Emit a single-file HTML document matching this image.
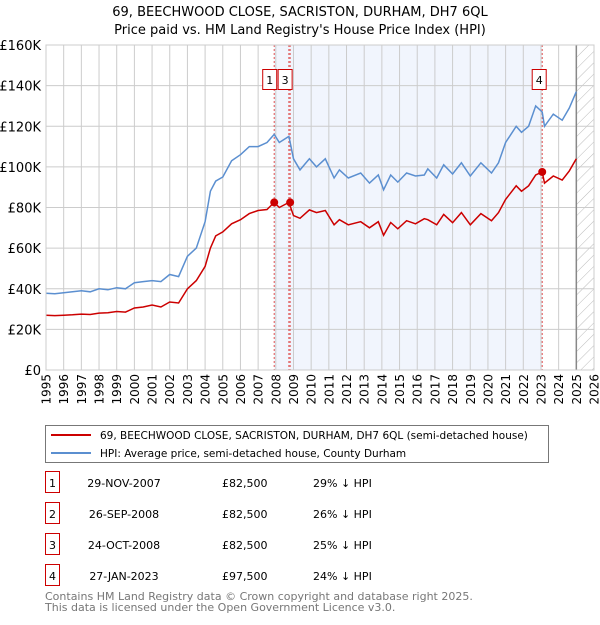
<!DOCTYPE html>
<html><head><meta charset="utf-8"><style>
body{margin:0;background:#fff;font-family:"Liberation Sans","DejaVu Sans",sans-serif;}
svg text{font-family:"DejaVu Sans","Liberation Sans",sans-serif;}
</style></head><body>
<svg id="chart" width="600" height="620" viewBox="0 0 600 620" xmlns="http://www.w3.org/2000/svg">
<defs><pattern id="hatch" width="8" height="8" patternUnits="userSpaceOnUse" patternTransform="rotate(45)"><line x1="0" y1="0" x2="0" y2="8" stroke="#bbb" stroke-width="1"/></pattern></defs>
<text x="300" y="16" text-anchor="middle" font-size="13">69, BEECHWOOD CLOSE, SACRISTON, DURHAM, DH7 6QL</text>
<text x="300" y="34" text-anchor="middle" font-size="13">Price paid vs. HM Land Registry's House Price Index (HPI)</text>
<g id="plot"></g>
<g>
<rect x="45.5" y="425.5" width="503" height="37" fill="#fff" stroke="#777"/>
<line x1="51" y1="435" x2="91" y2="435" stroke="#cc0000" stroke-width="2"/>
<text x="100" y="439" font-size="10.5">69, BEECHWOOD CLOSE, SACRISTON, DURHAM, DH7 6QL (semi-detached house)</text>
<line x1="51" y1="453" x2="91" y2="453" stroke="#5b8fd0" stroke-width="2"/>
<text x="100" y="457" font-size="10.5">HPI: Average price, semi-detached house, County Durham</text>
</g>
<g id="table" font-size="11"></g>
<text x="45" y="600" font-size="11" fill="#777">Contains HM Land Registry data © Crown copyright and database right 2025.</text>
<text x="45" y="611" font-size="11" fill="#777">This data is licensed under the Open Government Licence v3.0.</text>
</svg>
<script>
const years=[1995,1995.5,1996,1996.5,1997,1997.5,1998,1998.5,1999,1999.5,2000,2000.5,2001,2001.5,2002,2002.5,2003,2003.5,2004,2004.3,2004.6,2005,2005.5,2006,2006.5,2007,2007.5,2007.91,2008.2,2008.74,2009,2009.37,2009.9,2010.3,2010.8,2011.3,2011.6,2012.1,2012.8,2013.3,2013.8,2014.1,2014.5,2014.9,2015.4,2015.9,2016.4,2016.6,2017.1,2017.5,2018.0,2018.5,2019.0,2019.6,2020.2,2020.6,2021.0,2021.6,2021.9,2022.3,2022.7,2023.07,2023.2,2023.7,2024.2,2024.6,2025.0];
const hpi=[37.8,37.5,38,38.5,39,38.5,40,39.5,40.5,40,43,43.5,44,43.5,47,46,56,60,73,88,93,95,103,106,110,110,112,116,112,115,104,98.5,104,100,104,94.5,98.5,94.5,97,92,96,88.7,96,92.5,97,95.5,96,99,94.5,101,96.5,102,95.5,102,97,102,112,120,117,120,130,127,120,126,123,129,137];
const paid=[27,26.8,27,27.2,27.5,27.3,28,28.2,28.8,28.5,30.5,31,32,31,33.5,33,40,44,51,60,66,68,72,74,77,78.5,79,82.5,80,82.5,76,74.7,78.8,77.5,78.5,71.5,74,71.5,73,70,73,66.3,72.6,69.5,73.5,72,74.5,74,71.5,76.6,72.5,77.5,71.5,77,73.5,77.5,84,90.7,88,90.7,96,97.5,92,95.5,93.5,98,104];
const yTicks=[0,20,40,60,80,100,120,140,160];
const yTickLabels=["£0","£20K","£40K","£60K","£80K","£100K","£120K","£140K","£160K"];
const xTicks=[1995,1996,1997,1998,1999,2000,2001,2002,2003,2004,2005,2006,2007,2008,2009,2010,2011,2012,2013,2014,2015,2016,2017,2018,2019,2020,2021,2022,2023,2024,2025,2026];
const saleLabels=["1","2","3","4"];
const saleDates=[2007.91,2008.74,2008.81,2023.07];
const saleValues=[82.5,82.5,82.5,97.5];
const saleDateText=["29-NOV-2007","26-SEP-2008","24-OCT-2008","27-JAN-2023"];
const salePriceText=["£82,500","£82,500","£82,500","£97,500"];
const saleHpiText=["29% ↓ HPI","26% ↓ HPI","25% ↓ HPI","24% ↓ HPI"];

const NS="http://www.w3.org/2000/svg";
const L=46,R=594,T=45,B=370;
const xs=y=>L+(y-1995)/(2026-1995)*(R-L);
const ys=v=>B-v/160*(B-T);
const plot=document.getElementById('plot');
function mk(tag,attrs,parent){const e=document.createElementNS(NS,tag);for(const k in attrs)e.setAttribute(k,attrs[k]);(parent||plot).appendChild(e);return e;}
let sh=mk('rect',{x:xs(saleDates[0]),y:T,width:xs(saleDates[3])-xs(saleDates[0]),height:B-T,fill:'#eef3fd',opacity:0.8});


let ht=mk('rect',{x:xs(2025),y:T,width:R-xs(2025),height:B-T,fill:'url(#hatch)'});


yTicks.forEach((v,i)=>{
 let g=mk('line',{x1:L,x2:R,y1:ys(v),y2:ys(v),stroke:'#ccc'});
 
 
 let t=mk('text',{x:L-5,y:ys(v)+5,'text-anchor':'end','font-size':13});
 
 
 t.textContent=yTickLabels[i];
});
xTicks.forEach(y=>{
 let g=mk('line',{x1:xs(y),x2:xs(y),y1:T,y2:B,stroke:'#ccc'});
 
 
 let t=mk('text',{x:0,y:0,'text-anchor':'end','font-size':12,transform:`translate(${xs(y)+4.5},${B+4}) rotate(-90)`});
 
 
 t.textContent=y;
});
let ln=mk('line',{x1:xs(2025),x2:xs(2025),y1:T,y2:B,stroke:'#888','stroke-width':1.5});


saleDates.forEach((d,i)=>{
 let l=mk('line',{x1:xs(d),x2:xs(d),y1:T,y2:B,stroke:'#e05050','stroke-dasharray':'2,2'});
 
 
});
const pts=a=>a.map((v,i)=>xs(years[i]).toFixed(1)+','+ys(v).toFixed(1)).join(' ');
let hl=mk('polyline',{points:pts(hpi),fill:'none',stroke:'#5b8fd0','stroke-width':1.5});


let pl=mk('polyline',{points:pts(paid),fill:'none',stroke:'#cc0000','stroke-width':1.5});


saleDates.forEach((d,i)=>{
 if(i===1)return;
 let c=mk('circle',{cx:xs(d),cy:ys(saleValues[i]),r:4,fill:'#cc0000'});
 
 
});
[[0,-4.5],[2,-5],[3,-3]].forEach(([i,off])=>{
 const cx=xs(saleDates[i])+off;
 let r=mk('rect',{x:cx-7,y:69.5,width:14,height:20,fill:'#fff',stroke:'#cc0000'});
 
 
 let t=mk('text',{x:cx,y:84,'text-anchor':'middle','font-size':11});
 
 
 t.textContent=saleLabels[i];
});
const tb=document.getElementById('table');
saleLabels.forEach((s,i)=>{
 const y=483+i*31;
 let r=mk('rect',{x:45.5,y:y-11.5,width:14,height:21,fill:'#fff',stroke:'#cc0000'},tb);
 
 
 const cols=[[52.5,s,'middle'],[124,saleDateText[i],'middle'],[222,salePriceText[i],'start'],[313,saleHpiText[i],'start']];
 cols.forEach(([x,txt,a],j)=>{
  let t=mk('text',{x:x,y:y+4,'text-anchor':a,'font-size':11},tb);
  
  
  t.textContent=txt;
 });
});
let fr=mk('rect',{x:L,y:T,width:R-L,height:B-T,fill:'none',stroke:'#ccc'});


</script>
</body></html>
